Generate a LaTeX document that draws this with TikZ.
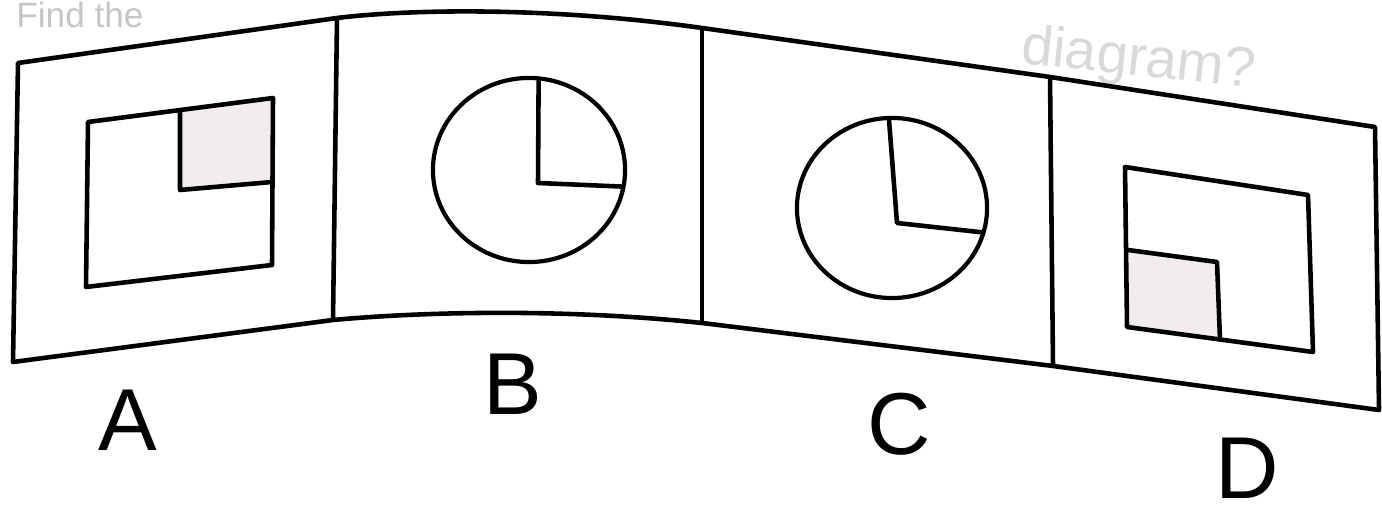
\documentclass[tikz,border=0pt]{standalone}
\usepackage{fontspec}
\setmainfont{Liberation Sans}
\usepackage{xcolor}
\usetikzlibrary{shapes.geometric,calc}
\definecolor{paperShade}{HTML}{F3ECEE}
\colorlet{faintText}{gray!45}

\begin{document}
\begin{tikzpicture}[x=0.01cm,y=-0.01cm,line join=round]
    \tikzset{
        edge/.style={
            draw=black,
            line width=1.3pt
        },
        shadebox/.style={
            fill=paperShade
        },
        pie/.style={
            draw,
            ellipse,
            line width=1.2pt,
            inner sep=0pt,
            outer sep=0pt
        },
        letter/.style={
            font=\fontsize{25}{30}\selectfont,
            inner sep=0pt
        }
    }
    \useasboundingbox (0,0) rectangle (1382,528);

    % Faded question text
    \node[faintText,font=\fontsize{10}{12}\selectfont,anchor=base west] (Q_left) at (4,28) {Find the};
    \node[gray!30,font=\fontsize{16}{19}\selectfont,rotate=-6,anchor=base west] (Q_right) at (1008,62) {diagram?};

    % Strip corners
    \coordinate (A_TL) at (18,63);
    \coordinate (A_BL) at (13,362);
    \coordinate (AB_T) at (337,18);
    \coordinate (AB_B) at (333,320);
    \coordinate (BC_T) at (702,28);
    \coordinate (BC_B) at (702,323);
    \coordinate (CD_T) at (1050,77);
    \coordinate (CD_B) at (1053,366);
    \coordinate (D_TR) at (1375,127);
    \coordinate (D_BR) at (1379,410);

    % Panel A
    \coordinate (A_in_TL) at (88,122);
    \coordinate (A_in_TR) at (273,98);
    \coordinate (A_in_BR) at (272,265);
    \coordinate (A_in_BL) at (86,287);
    \coordinate (A_sq_T) at (180,110);
    \coordinate (A_sq_C) at (180,190);
    \coordinate (A_sq_R) at (272,182);

    \fill[shadebox] (A_sq_T) -- (A_in_TR) -- (A_sq_R) -- (A_sq_C) -- cycle;
    \draw[edge] (A_in_TL) -- (A_in_TR) -- (A_in_BR) -- (A_in_BL) -- cycle;
    \draw[edge] (A_sq_T) -- (A_sq_C) -- (A_sq_R);

    % Panel B
    \node[pie,minimum width=1.92cm,minimum height=1.84cm] (B_circ) at (529,170) {};
    \coordinate (B_O) at (538,183);
    \draw[edge] (B_circ.84) -- (B_O) -- (B_circ.-10);

    % Panel C
    \node[pie,minimum width=1.90cm,minimum height=1.80cm] (C_circ) at (892,208) {};
    \coordinate (C_O) at (897,223);
    \draw[edge] (C_circ.92) -- (C_O) -- (C_circ.-15);

    % Panel D
    \coordinate (D_in_TL) at (1125,167);
    \coordinate (D_in_TR) at (1308,195);
    \coordinate (D_in_BR) at (1313,352);
    \coordinate (D_in_BL) at (1127,327);
    \coordinate (D_sq_L) at (1128,250);
    \coordinate (D_sq_C) at (1217,262);
    \coordinate (D_sq_B) at (1220,340);

    \fill[shadebox] (D_sq_L) -- (D_sq_C) -- (D_sq_B) -- (D_in_BL) -- cycle;
    \draw[edge] (D_in_TL) -- (D_in_TR) -- (D_in_BR) -- (D_in_BL) -- cycle;
    \draw[edge] (D_sq_L) -- (D_sq_C) -- (D_sq_B);

    % Strip outline and dividers
    \draw[edge] (A_TL) -- (AB_T)
        .. controls (420,8) and (560,8) .. (BC_T)
        -- (CD_T) -- (D_TR) -- (D_BR) -- (CD_B) -- (BC_B)
        .. controls (560,308) and (420,312) .. (AB_B)
        -- (A_BL) -- cycle;
    \draw[edge] (AB_T) -- (AB_B);
    \draw[edge] (BC_T) -- (BC_B);
    \draw[edge] (CD_T) -- (CD_B);

    % Labels
    \node[letter] (lab_A) at (128,420) {A};
    \node[letter] (lab_B) at (513,384) {B};
    \node[letter] (lab_C) at (899,424) {C};
    \node[letter] (lab_D) at (1247,468) {D};
\end{tikzpicture}
\end{document}
